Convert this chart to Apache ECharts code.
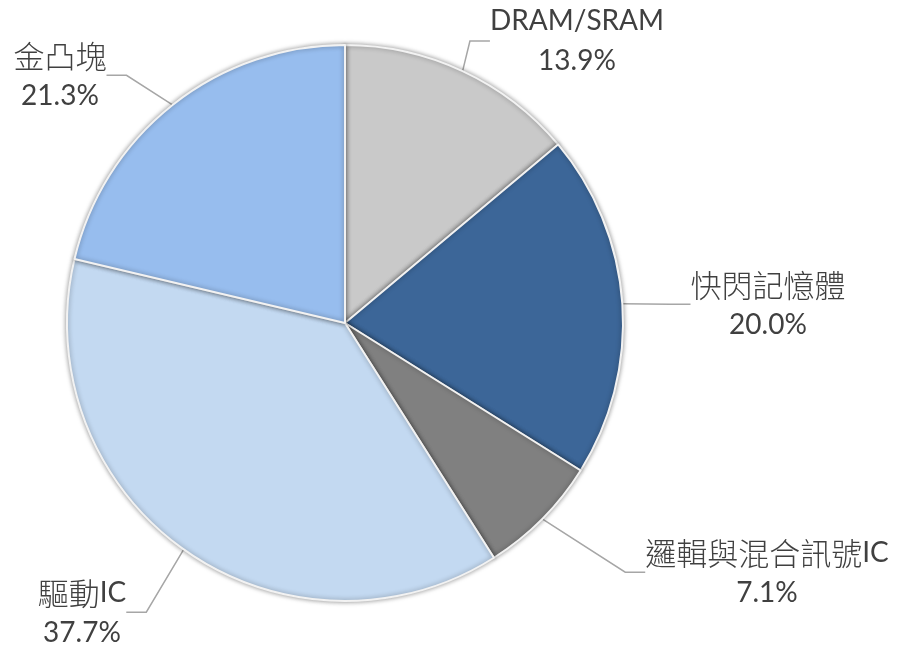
<!DOCTYPE html>
<html>
<head>
<meta charset="utf-8">
<script src="https://cdn.jsdelivr.net/npm/echarts@6/dist/echarts.min.js"></script>
<style>
  html, body { margin: 0; padding: 0; background: #fff; }
  #chart { width: 905px; height: 646px; }
</style>
</head>
<body>
<div id="chart"></div>
<script>
const categories = ["DRAM/SRAM", "快閃記憶體", "邏輯與混合訊號IC", "驅動IC", "金凸塊"];
const shares = [13.9, 20.0, 7.1, 37.7, 21.3];
const colors = ["#c9c9c9", "#3c6698", "#808080", "#c3d9f1", "#97bdee"];
// where each label block sits (center of the two text lines)
const labelPos = [[577, 41], [768, 305], [767, 573], [82, 613], [60, 76]];

// wrap CJK runs so they get the larger rich style
function richName(name) {
  return name.replace(/([\u3400-\u9fff]+)/g, "{cjk|$1}").replace(/(^|\})([^{}]+)(?=\{|$)/g, "$1{lat|$2}");
}

let myChart = echarts.init(document.getElementById("chart"));
let option = {
  animation: false,
  series: [
    {
      type: "pie",
      center: [345, 323],
      radius: 278,
      startAngle: 90,
      clockwise: true,
      data: categories.map((name, i) => {
        return { name: name, value: shares[i], itemStyle: { color: colors[i] } };
      }),
      itemStyle: {
        borderColor: "#f2f2f2",
        borderWidth: 2,
        shadowColor: "rgba(0,0,0,0.4)",
        shadowBlur: 5
      },
      label: {
        show: true,
        position: "outside",
        formatter: p => richName(p.name) + "\n{lat|" + p.value.toFixed(1) + "%}",
        color: "#404040",
        align: "center",
        rich: {
          lat: {
            fontSize: 28,
            lineHeight: 40,
            color: "#404040",
            fontFamily: "Lato, 'Noto Sans', sans-serif"
          },
          cjk: {
            fontSize: 31,
            lineHeight: 40,
            color: "#404040",
            fontFamily: "'Noto Sans CJK TC', sans-serif",
            fontWeight: 300
          }
        }
      },
      labelLine: {
        show: true,
        length: 20,
        length2: 20,
        lineStyle: { color: "#a6a6a6", width: 1.5 }
      },
      labelLayout: params => {
        const p = labelPos[params.dataIndex];
        return { x: p[0], y: p[1], align: "center", verticalAlign: "middle" };
      }
    }
  ]
};
myChart.setOption(option);
window.addEventListener("resize", function() {
  myChart.resize();
});
</script>
</body>
</html>
